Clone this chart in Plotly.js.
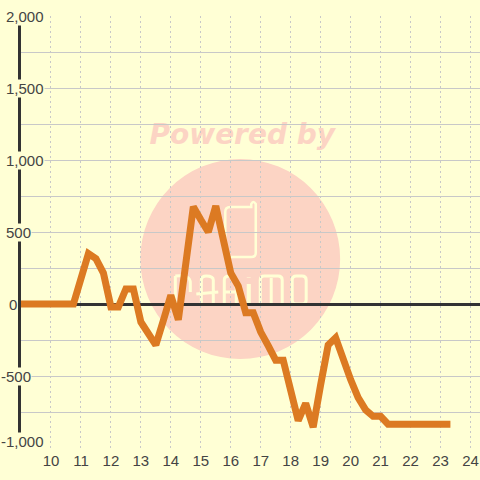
<!DOCTYPE html>
<html><head><meta charset="utf-8">
<script src="https://cdn.plot.ly/plotly-3.0.1.min.js"></script>
<style>html,body{margin:0;padding:0;background:#ffffd5}</style></head>
<body><div id="c" style="width:480px;height:480px"></div>
<script>
const hours=[8.88,9,10,10.25,10.5,10.75,11,11.25,11.5,11.75,12,12.25,12.5,12.75,13,13.25,13.5,13.75,14,14.25,14.5,14.75,15,15.25,15.5,15.75,16,16.25,16.5,16.75,17,17.25,17.5,17.75,18,18.25,18.5,18.75,19,19.25,19.5,19.75,20,20.25,20.5,20.75,21,21.25,21.5,22,22.5,23,23.33];
const values=[0,0,0,0,0,0,175,350,315,215,-20,-20,105,105,-125,-205,-285,-115,60,-110,285,675,585,500,680,445,215,125,-60,-60,-195,-290,-390,-390,-600,-810,-690,-855,-560,-285,-235,-390,-525,-650,-735,-780,-780,-835,-835,-835,-835,-835,-835];
const xTicks=[10,11,12,13,14,15,16,17,18,19,20,21,22,23,24];
const yLabelValues=[2000,1500,1000,500,0,-500,-1000];
const yLabelTexts=['2,000','1,500','1,000','500','0','-500','-1,000'];
const yLabelRight=[45,45,45,32,17,32,45];
const bg='#ffffd5',txt='#444444',dark='#333333',grid='#c8c8c8',orange='#dc7a22',pink='#fcd4c4';
const px=(x)=>(x-20.5)/459.5, py=(y)=>(448-y)/432;
function logoPath(d,w){return {type:'path',xref:'paper',yref:'paper',layer:'below',path:d,line:{color:bg,width:w}}}
function P(s){return s.replace(/(-?[\d.]+),(-?[\d.]+)/g,(m,a,b)=>px(+a).toFixed(5)+','+py(+b).toFixed(5));}
const shapes=[
 {type:'circle',xref:'paper',yref:'paper',layer:'below',x0:px(140),x1:px(340),y0:py(359),y1:py(159),fillcolor:pink,line:{width:0}},
 {type:'rect',xref:'paper',yref:'paper',layer:'below',x0:px(142),x1:px(342),y0:py(148),y1:py(116),line:{width:0},fillcolor:'rgba(0,0,0,0)',
  label:{text:'Powered by',textposition:'middle center',font:{family:'DejaVu Sans',size:28,weight:'bold',style:'italic',color:pink}}},
 logoPath(P('M 225,212 Q 225,207 230,207 L 251,207 L 251,204 Q 253,200 255.5,204 L 255.5,253 Q 255.5,257 251,257 L 230,257 Q 225,257 225,252 Z'),2.5),
 logoPath(P('M 175,304 L 175,276 M 175,276 Q 190,274 190,283 L 190,292'),3),
 logoPath(P('M 201,304 L 201,280 Q 201,276 206,276 Q 213,276 213,280 L 213,304 M 196,294 L 218,292'),3),
 logoPath(P('M 224,304 L 224,280 Q 224,276 229,276 Q 236,276 236,280 L 236,304 M 224,292 L 236,292'),3),
 logoPath(P('M 248.5,304 L 248.5,284 M 248.5,277 L 248.5,277.5'),4),
 logoPath(P('M 260,304 L 260,280 Q 260,276 264,276 L 278,276 Q 282,276 282,280 L 282,304 M 271,278 L 271,304'),3),
 logoPath(P('M 292,280 Q 292,276 296,276 L 302,276 Q 306,276 306,280 L 306,300 Q 306,304 302,304 L 296,304 Q 292,304 292,300 Z'),3)
];
const annotations=yLabelValues.map((v,i)=>({
 xref:'paper',yref:'y',x:px(yLabelRight[i]),y:v,xanchor:'right',yanchor:'middle',showarrow:false,
 yshift:v===-1000?7:0,text:yLabelTexts[i],font:{family:'Liberation Sans',size:15,color:txt},bgcolor:bg,borderpad:0,
 align:'right'}));
Plotly.newPlot('c',[{x:hours,y:values,type:'scatter',mode:'lines',cliponaxis:false,hoverinfo:'skip',
 line:{color:orange,width:7,shape:'linear'}}],{
 width:480,height:480,paper_bgcolor:bg,plot_bgcolor:bg,showlegend:false,
 margin:{l:20.5,r:0,t:16,b:32,pad:0},
 xaxis:{range:[9,24.317],tickmode:'array',tickvals:xTicks,ticktext:xTicks.map(String),showgrid:true,gridcolor:grid,gridwidth:1,griddash:'2px,3px',
  zeroline:false,showline:false,ticks:'',tickfont:{family:'Liberation Sans',size:15,color:txt},ticklabelstandoff:2},
 yaxis:{range:[-1000,2000],tickmode:'array',tickvals:[-1000,-750,-500,-250,0,250,500,750,1000,1250,1500,1750,2000],showticklabels:false,
  showgrid:true,gridcolor:grid,gridwidth:1,zeroline:true,zerolinecolor:dark,zerolinewidth:3,showline:true,linecolor:dark,linewidth:3,ticks:''},
 shapes,annotations
},{displayModeBar:false,staticPlot:true});
</script></body></html>
